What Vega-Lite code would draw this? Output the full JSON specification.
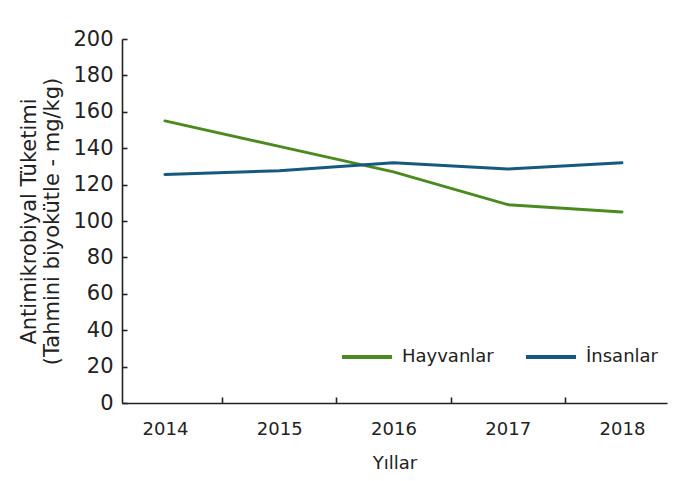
{
  "$schema": "https://vega.github.io/schema/vega-lite/v6.json",
  "autosize": "none",
  "padding": {"left": 122, "top": 39, "right": 29, "bottom": 78},
  "width": 545,
  "height": 364,
  "background": "white",
  "config": {
    "font": "DejaVu Sans",
    "view": {"stroke": null},
    "axis": {"grid": false, "domainColor": "#222", "tickColor": "#222", "domainWidth": 1.6, "tickWidth": 1.6, "labelColor": "#222", "titleColor": "#222", "labelFont": "DejaVu Sans", "titleFont": "DejaVu Sans", "titleFontWeight": "normal"}
  },
  "data": {"values": [
    {"year": 2014, "series": "Hayvanlar", "value": 155},
    {"year": 2015, "series": "Hayvanlar", "value": 141},
    {"year": 2016, "series": "Hayvanlar", "value": 127},
    {"year": 2017, "series": "Hayvanlar", "value": 109},
    {"year": 2018, "series": "Hayvanlar", "value": 105},
    {"year": 2014, "series": "İnsanlar", "value": 125.6},
    {"year": 2015, "series": "İnsanlar", "value": 127.6},
    {"year": 2016, "series": "İnsanlar", "value": 132},
    {"year": 2017, "series": "İnsanlar", "value": 128.6},
    {"year": 2018, "series": "İnsanlar", "value": 132}
  ]},
  "mark": {"type": "line", "strokeWidth": 3, "strokeCap": "round"},
  "encoding": {
    "x": {
      "field": "year", "type": "quantitative",
      "scale": {"domain": [2013.624, 2018.394], "nice": false, "zero": false},
      "axis": {
        "title": "Yıllar", "titleFontSize": 18, "titlePadding": 16,
        "values": [2014, 2014.5, 2015, 2015.5, 2016, 2016.5, 2017, 2017.5, 2018],
        "labelExpr": "datum.value % 1 == 0 ? '' + datum.value : ''",
        "tickOpacity": {"expr": "datum.value % 1 == 0 ? 0 : 1"},
        "tickSize": -6, "labelPadding": 23, "labelFontSize": 18
      }
    },
    "y": {
      "field": "value", "type": "quantitative",
      "scale": {"domain": [0, 200], "nice": false},
      "axis": {
        "title": ["Antimikrobiyal Tüketimi", "(Tahmini biyokütle - mg/kg)"],
        "titleFontSize": 21, "titleLineHeight": 23, "titlePadding": 10,
        "values": [0, 20, 40, 60, 80, 100, 120, 140, 160, 180, 200],
        "tickSize": -5, "labelPadding": 14, "labelFontSize": 21
      }
    },
    "color": {
      "field": "series", "type": "nominal",
      "scale": {"domain": ["Hayvanlar", "İnsanlar"], "range": ["#4a8a1e", "#155a7e"]},
      "legend": {
        "title": null, "orient": "none", "direction": "horizontal",
        "legendX": 218, "legendY": 291,
        "symbolType": "stroke", "symbolSize": 2500, "symbolStrokeWidth": 4,
        "labelFontSize": 18, "labelColor": "#222", "columnPadding": 24, "labelOffset": 8
      }
    }
  }
}
